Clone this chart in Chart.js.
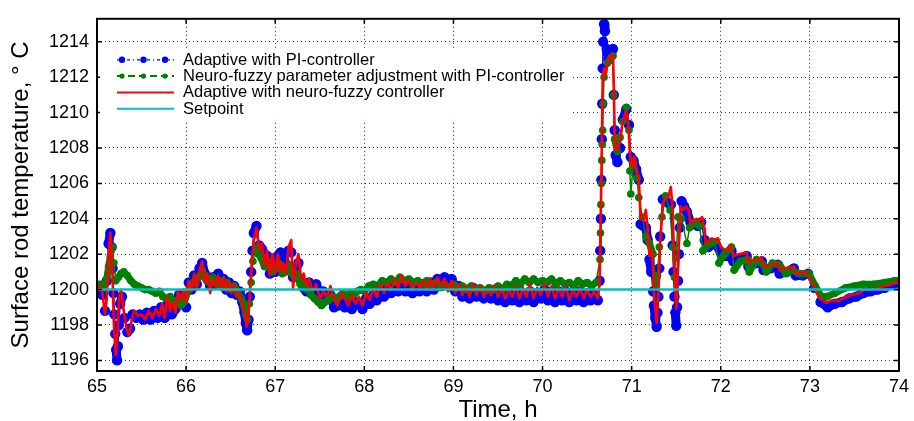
<!DOCTYPE html>
<html>
<head>
<meta charset="utf-8">
<script src="https://cdn.jsdelivr.net/npm/chart.js@4.4.1/dist/chart.umd.min.js"></script>
<style>
  html, body { margin: 0; padding: 0; background: #fff; }
  #wrap { width: 914px; height: 421px; }
</style>
</head>
<body>
<div id="wrap"><canvas id="tempChartCanvas" width="914" height="421"></canvas></div>
<script>
// [time h, temperature C]
const adaptivePI = [
  [65.00,1199.8],[65.03,1200.1],[65.06,1199.7],[65.09,1198.8],[65.11,1200.5],[65.13,1202.6],[65.15,1203.2],[65.165,1202.4],[65.175,1201.2],[65.185,1199.8],
  [65.195,1198.6],[65.205,1197.5],[65.215,1196.6],[65.225,1196.0],[65.235,1196.8],[65.245,1198.0],[65.26,1199.2],[65.28,1199.6],[65.31,1198.4],[65.34,1197.6],
  [65.37,1197.8],[65.40,1198.6],[65.44,1198.4],[65.48,1198.6],[65.52,1198.3],[65.56,1198.7],[65.60,1198.3],[65.64,1198.8],[65.68,1198.4],[65.72,1199.0],
  [65.76,1198.4],[65.80,1199.3],[65.84,1198.6],[65.88,1198.9],[65.92,1199.7],[65.96,1199.2],[66.00,1199.0],[66.03,1200.4],[66.06,1200.0],[66.09,1200.8],
  [66.12,1200.3],[66.15,1201.2],[66.18,1201.5],[66.21,1200.9],[66.24,1200.6],[66.27,1200.2],[66.30,1200.7],[66.33,1200.3],[66.36,1200.9],[66.39,1200.4],
  [66.42,1200.6],[66.45,1200.0],[66.48,1200.4],[66.51,1199.8],[66.54,1200.2],[66.57,1199.7],[66.60,1199.9],[66.63,1199.3],[66.655,1198.7],[66.67,1198.1],
  [66.685,1197.7],[66.70,1198.3],[66.715,1199.6],[66.73,1201.0],[66.745,1202.2],[66.76,1203.2],[66.79,1203.6],[66.82,1202.5],[66.85,1202.3],[66.88,1201.8],
  [66.91,1201.9],[66.94,1200.9],[66.97,1201.6],[67.00,1201.0],[67.03,1201.9],[67.06,1202.1],[67.09,1202.0],[67.12,1201.4],[67.15,1202.2],[67.18,1202.1],
  [67.20,1200.7],[67.23,1201.0],[67.26,1201.5],[67.29,1200.5],[67.32,1200.1],[67.35,1199.9],[67.38,1200.4],[67.42,1199.9],[67.46,1200.3],[67.50,1199.7],
  [67.54,1199.9],[67.58,1199.5],[67.62,1199.7],[67.66,1199.0],[67.70,1199.1],[67.74,1199.6],[67.78,1199.0],[67.82,1199.4],[67.86,1198.9],[67.90,1199.3],
  [67.94,1199.2],[67.98,1198.9],[68.02,1199.5],[68.06,1199.2],[68.10,1199.7],[68.14,1199.4],[68.18,1199.9],[68.22,1199.6],[68.26,1200.1],[68.30,1199.8],
  [68.34,1200.2],[68.38,1199.9],[68.42,1200.3],[68.46,1199.9],[68.50,1200.2],[68.54,1199.8],[68.58,1200.1],[68.62,1199.9],[68.66,1200.3],[68.70,1199.9],
  [68.74,1200.4],[68.78,1200.0],[68.82,1200.6],[68.86,1200.2],[68.90,1200.7],[68.94,1200.3],[68.98,1200.6],[69.02,1199.9],[69.06,1200.2],[69.10,1199.6],
  [69.14,1200.0],[69.18,1199.5],[69.22,1200.1],[69.26,1199.6],[69.30,1200.0],[69.34,1199.5],[69.38,1199.9],[69.42,1199.5],[69.46,1200.0],[69.50,1199.4],
  [69.54,1199.9],[69.58,1199.3],[69.62,1199.8],[69.66,1199.4],[69.70,1199.9],[69.74,1199.3],[69.78,1199.8],[69.82,1199.4],[69.86,1199.9],[69.90,1199.3],
  [69.94,1199.8],[69.98,1199.5],[70.02,1200.0],[70.06,1199.4],[70.10,1199.9],[70.14,1199.3],[70.18,1199.9],[70.22,1199.4],[70.26,1199.9],[70.30,1199.3],
  [70.34,1199.8],[70.38,1199.4],[70.42,1199.9],[70.46,1199.3],[70.50,1199.8],[70.54,1199.4],[70.58,1199.7],[70.62,1199.4],[70.64,1200.5],[70.647,1202.2],
  [70.655,1204.0],[70.66,1206.2],[70.665,1208.5],[70.67,1210.5],[70.675,1212.5],[70.68,1214.0],[70.69,1215.0],[70.70,1214.6],[70.72,1213.6],[70.74,1213.0],
  [70.77,1213.3],[70.79,1213.6],[70.80,1211.0],[70.81,1209.0],[70.82,1207.6],[70.84,1207.2],[70.87,1208.0],[70.90,1209.6],[70.94,1210.2],[70.97,1209.3],
  [70.99,1207.5],[71.02,1207.3],[71.05,1206.8],[71.08,1206.2],[71.10,1203.7],[71.13,1203.6],[71.16,1203.5],[71.18,1202.8],[71.20,1201.7],[71.22,1201.0],
  [71.24,1199.9],[71.25,1199.1],[71.265,1198.4],[71.28,1197.9],[71.29,1198.7],[71.30,1199.6],[71.31,1201.2],[71.32,1203.0],[71.35,1205.1],[71.38,1205.0],
  [71.41,1204.9],[71.44,1204.8],[71.46,1202.5],[71.47,1201.0],[71.48,1199.6],[71.49,1198.7],[71.50,1197.95],[71.51,1199.0],[71.52,1200.5],[71.53,1202.0],
  [71.54,1203.5],[71.56,1205.0],[71.59,1204.7],[71.62,1204.4],[71.66,1203.8],[71.70,1203.7],[71.74,1203.6],[71.78,1203.8],[71.82,1202.8],[71.86,1202.4],
  [71.90,1202.6],[71.95,1202.5],[72.00,1202.1],[72.06,1201.9],[72.12,1202.2],[72.14,1201.6],[72.20,1201.7],[72.29,1201.9],[72.31,1201.3],[72.40,1201.5],
  [72.46,1201.6],[72.48,1201.1],[72.56,1201.2],[72.64,1201.4],[72.66,1200.9],[72.74,1201.0],[72.82,1201.2],[72.84,1200.8],[72.92,1200.8],[72.98,1200.9],
  [73.05,1200.1],[73.12,1199.3],[73.20,1199.0],[73.28,1199.2],[73.36,1199.3],[73.44,1199.5],[73.52,1199.6],[73.60,1199.8],[73.68,1199.9],[73.76,1200.0],
  [73.84,1200.1],[73.92,1200.3],[74.00,1200.4]
];

const neuroFuzzyPI = [
  [65.00,1200.3],[65.04,1200.3],[65.08,1200.1],[65.11,1200.6],[65.13,1201.3],[65.15,1201.9],[65.17,1202.4],[65.19,1201.5],[65.21,1200.5],[65.24,1200.7],
  [65.27,1200.9],[65.30,1201.0],[65.34,1200.8],[65.38,1200.5],[65.42,1200.3],[65.46,1200.2],[65.50,1200.1],[65.54,1200.0],[65.58,1200.0],[65.62,1199.9],
  [65.66,1199.8],[65.70,1199.9],[65.74,1199.6],[65.78,1199.5],[65.82,1199.6],[65.86,1199.2],[65.90,1199.4],[65.94,1199.1],[65.98,1199.3],[66.02,1199.9],
  [66.06,1200.3],[66.10,1200.5],[66.14,1200.7],[66.18,1201.1],[66.22,1200.6],[66.26,1200.4],[66.30,1200.7],[66.34,1200.3],[66.38,1200.5],[66.42,1200.2],
  [66.46,1200.4],[66.50,1200.0],[66.54,1200.2],[66.58,1199.8],[66.62,1199.5],[66.65,1199.1],[66.67,1198.6],[66.69,1198.3],[66.71,1199.2],[66.73,1200.4],
  [66.75,1201.6],[66.78,1202.4],[66.81,1202.0],[66.84,1201.8],[66.88,1201.3],[66.92,1201.6],[66.96,1201.0],[67.00,1201.2],[67.04,1201.5],[67.08,1200.9],
  [67.12,1201.0],[67.16,1201.4],[67.20,1200.8],[67.24,1200.9],[67.28,1200.3],[67.32,1200.4],[67.36,1200.0],[67.40,1199.7],[67.44,1199.5],[67.48,1199.3],
  [67.52,1199.1],[67.56,1199.3],[67.60,1199.4],[67.64,1199.6],[67.68,1199.5],[67.72,1199.6],[67.76,1199.8],[67.80,1199.6],[67.84,1199.8],[67.88,1199.7],
  [67.92,1199.9],[67.96,1200.0],[68.00,1199.9],[68.05,1200.2],[68.10,1200.3],[68.15,1200.2],[68.20,1200.5],[68.25,1200.4],[68.30,1200.6],[68.35,1200.4],
  [68.40,1200.7],[68.45,1200.5],[68.50,1200.6],[68.55,1200.4],[68.60,1200.5],[68.65,1200.3],[68.70,1200.5],[68.75,1200.3],[68.80,1200.4],[68.85,1200.2],
  [68.90,1200.3],[68.95,1200.1],[69.00,1200.3],[69.05,1200.1],[69.10,1200.2],[69.15,1200.0],[69.20,1200.2],[69.25,1200.0],[69.30,1200.1],[69.35,1199.9],
  [69.40,1200.1],[69.45,1200.0],[69.50,1200.2],[69.55,1200.0],[69.60,1200.3],[69.65,1200.2],[69.70,1200.5],[69.75,1200.3],[69.80,1200.6],[69.85,1200.4],
  [69.90,1200.6],[69.95,1200.4],[70.00,1200.5],[70.05,1200.4],[70.10,1200.6],[70.15,1200.3],[70.20,1200.5],[70.25,1200.3],[70.30,1200.4],[70.35,1200.2],
  [70.40,1200.5],[70.45,1200.3],[70.50,1200.4],[70.55,1200.2],[70.60,1200.4],[70.645,1201.7],[70.65,1203.2],[70.655,1204.8],[70.66,1206.0],[70.665,1207.3],
  [70.67,1208.2],[70.675,1209.0],[70.68,1210.5],[70.69,1212.0],[70.73,1212.8],[70.77,1213.1],[70.79,1213.2],[70.80,1211.0],[70.81,1208.5],[70.84,1207.8],
  [70.87,1208.6],[70.90,1209.5],[70.94,1210.3],[70.97,1209.0],[70.98,1206.7],[70.99,1205.4],[71.02,1207.2],[71.06,1206.3],[71.08,1205.2],[71.12,1204.1],
  [71.16,1203.0],[71.20,1202.6],[71.24,1202.0],[71.27,1200.3],[71.29,1200.8],[71.31,1202.4],[71.34,1204.1],[71.38,1205.3],[71.43,1204.5],[71.46,1202.4],
  [71.48,1200.7],[71.50,1201.8],[71.52,1204.1],[71.56,1204.0],[71.62,1202.6],[71.65,1203.5],[71.70,1203.8],[71.76,1203.6],[71.80,1202.2],[71.85,1202.5],
  [71.93,1202.7],[71.98,1201.5],[72.04,1202.0],[72.12,1202.4],[72.15,1201.1],[72.22,1201.6],[72.30,1201.7],[72.32,1201.0],[72.40,1201.7],[72.48,1201.4],
  [72.51,1201.0],[72.58,1201.5],[72.66,1201.4],[72.73,1200.9],[72.80,1201.1],[72.88,1200.9],[72.99,1200.9],[73.06,1200.2],[73.13,1199.6],[73.19,1199.6],
  [73.28,1199.8],[73.40,1200.1],[73.50,1200.2],[73.60,1200.3],[73.72,1200.3],[73.84,1200.4],[73.95,1200.5],[74.00,1200.5]
];

const neuroFuzzyController = [
  [65.00,1199.9],[65.03,1200.2],[65.06,1199.8],[65.09,1198.6],[65.11,1199.5],[65.13,1202.0],[65.15,1203.2],[65.17,1201.5],[65.19,1198.0],[65.21,1196.3],
  [65.23,1197.5],[65.25,1199.6],[65.27,1200.0],[65.30,1198.8],[65.33,1197.8],[65.36,1197.4],[65.39,1198.3],[65.42,1198.8],[65.46,1198.5],[65.50,1198.6],
  [65.54,1198.3],[65.58,1198.8],[65.62,1198.4],[65.66,1198.9],[65.70,1198.5],[65.73,1199.2],[65.76,1198.4],[65.79,1199.6],[65.82,1198.8],[65.85,1199.3],
  [65.88,1198.7],[65.91,1199.9],[65.94,1199.4],[65.97,1200.0],[66.00,1199.3],[66.03,1200.5],[66.06,1199.9],[66.09,1200.9],[66.12,1200.0],[66.15,1201.0],
  [66.18,1201.6],[66.21,1200.4],[66.24,1200.9],[66.27,1199.8],[66.30,1200.6],[66.33,1200.2],[66.36,1200.8],[66.39,1200.0],[66.42,1200.7],[66.45,1199.9],
  [66.48,1200.5],[66.51,1199.8],[66.54,1200.3],[66.57,1199.6],[66.60,1199.8],[66.63,1199.2],[66.66,1198.6],[66.68,1197.9],[66.70,1198.5],[66.72,1200.2],
  [66.74,1201.8],[66.76,1202.8],[66.79,1203.5],[66.82,1202.2],[66.85,1202.6],[66.88,1201.3],[66.91,1202.2],[66.94,1200.8],[66.97,1202.0],[67.00,1200.9],
  [67.03,1202.0],[67.06,1201.0],[67.09,1201.5],[67.12,1200.9],[67.15,1202.4],[67.18,1202.8],[67.20,1200.1],[67.23,1201.4],[67.26,1202.0],[67.29,1200.6],
  [67.32,1200.9],[67.35,1200.2],[67.38,1200.6],[67.42,1199.9],[67.46,1200.3],[67.50,1199.5],[67.54,1199.9],[67.58,1199.6],[67.62,1200.2],[67.66,1199.4],
  [67.70,1199.1],[67.74,1199.8],[67.78,1199.5],[67.82,1199.1],[67.86,1199.7],[67.90,1199.2],[67.94,1199.6],[67.98,1199.1],[68.02,1199.8],[68.06,1199.4],
  [68.10,1200.1],[68.14,1199.6],[68.18,1200.3],[68.22,1199.8],[68.26,1200.4],[68.30,1200.0],[68.34,1200.6],[68.38,1200.1],[68.42,1200.8],[68.46,1200.2],
  [68.50,1200.5],[68.54,1200.0],[68.58,1200.4],[68.62,1200.1],[68.66,1200.5],[68.70,1200.0],[68.74,1200.6],[68.78,1200.1],[68.82,1200.7],[68.86,1200.2],
  [68.90,1200.6],[68.94,1199.9],[68.98,1200.5],[69.02,1199.8],[69.06,1200.3],[69.10,1199.7],[69.14,1200.2],[69.18,1199.6],[69.22,1200.3],[69.26,1199.7],
  [69.30,1200.2],[69.34,1199.6],[69.38,1200.1],[69.42,1199.7],[69.46,1200.2],[69.50,1199.6],[69.54,1200.1],[69.58,1199.5],[69.62,1200.0],[69.66,1199.6],
  [69.70,1200.2],[69.74,1199.5],[69.78,1200.1],[69.82,1199.6],[69.86,1200.3],[69.90,1199.5],[69.94,1200.1],[69.98,1199.7],[70.02,1200.3],[70.06,1199.6],
  [70.10,1200.2],[70.14,1199.5],[70.18,1200.1],[70.22,1199.6],[70.26,1200.2],[70.30,1199.4],[70.34,1200.0],[70.38,1199.6],[70.42,1200.1],[70.46,1199.5],
  [70.50,1200.0],[70.54,1199.6],[70.58,1199.9],[70.62,1199.5],[70.64,1200.3],[70.66,1206.3],[70.675,1211.9],[70.69,1212.5],[70.71,1212.1],[70.73,1212.9],
  [70.76,1213.2],[70.79,1213.3],[70.80,1211.5],[70.81,1208.2],[70.83,1207.8],[70.86,1208.2],[70.90,1209.5],[70.94,1210.1],[70.96,1209.5],[70.98,1207.8],
  [71.00,1206.9],[71.03,1207.5],[71.05,1206.9],[71.08,1206.3],[71.10,1204.1],[71.13,1203.9],[71.16,1204.5],[71.18,1203.4],[71.20,1201.9],[71.23,1202.2],
  [71.25,1199.8],[71.28,1198.1],[71.30,1199.8],[71.32,1202.6],[71.35,1204.9],[71.38,1205.2],[71.41,1205.2],[71.44,1205.8],[71.46,1204.5],[71.48,1201.1],
  [71.50,1198.9],[71.51,1199.8],[71.53,1202.6],[71.55,1204.7],[71.58,1204.5],[71.61,1204.7],[71.64,1204.5],[71.66,1203.7],[71.70,1203.9],[71.73,1204.0],
  [71.76,1203.9],[71.79,1204.1],[71.82,1203.4],[71.83,1202.6],[71.87,1202.8],[71.90,1202.9],[71.93,1202.8],[71.97,1202.9],[72.00,1202.4],[72.06,1202.2],
  [72.12,1202.5],[72.14,1201.9],[72.20,1202.0],[72.29,1202.1],[72.31,1201.5],[72.39,1201.7],[72.46,1201.8],[72.48,1201.3],[72.56,1201.4],[72.64,1201.5],
  [72.66,1201.1],[72.74,1201.2],[72.82,1201.3],[72.84,1200.9],[72.95,1201.0],[73.03,1200.4],[73.10,1199.6],[73.18,1199.25],[73.25,1199.4],[73.32,1199.35],
  [73.40,1199.6],[73.47,1199.7],[73.55,1199.8],[73.62,1200.0],[73.70,1200.0],[73.77,1200.1],[73.85,1200.2],[73.92,1200.3],[74.00,1200.5]
];

const setpoint = [[65, 1200], [74, 1200]];

const seriesLabels = [
  'Adaptive with PI-controller',
  'Neuro-fuzzy parameter adjustment with PI-controller',
  'Adaptive with neuro-fuzzy controller',
  'Setpoint'
];
const xTicks = [65, 66, 67, 68, 69, 70, 71, 72, 73, 74];
const yTicks = [1196, 1198, 1200, 1202, 1204, 1206, 1208, 1210, 1212, 1214];

const FONT = '"Liberation Sans", Arial, sans-serif';

const toPoints = arr => arr.map(p => ({ x: p[0], y: p[1] }));

// dense marker bands: thick where the curve is flat, thin on steep jumps so the dots show
const bandWidth = (thick, thin) => c => Math.abs(c.p1.y - c.p0.y) > 14 ? thin : thick;

// frame with inward ticks on all four sides
const frameTicks = {
    id: 'frameTicks',
    afterDatasetsDraw(chart) {
        const { ctx, chartArea: a, scales } = chart;
        ctx.save();
        ctx.strokeStyle = '#000';
        ctx.lineWidth = 1.5;
        ctx.beginPath();
        xTicks.forEach(v => {
            const x = scales.x.getPixelForValue(v);
            ctx.moveTo(x, a.bottom); ctx.lineTo(x, a.bottom - 5);
            ctx.moveTo(x, a.top); ctx.lineTo(x, a.top + 5);
        });
        yTicks.forEach(v => {
            const y = scales.y.getPixelForValue(v);
            ctx.moveTo(a.left, y); ctx.lineTo(a.left + 5, y);
            ctx.moveTo(a.right, y); ctx.lineTo(a.right - 5, y);
        });
        ctx.stroke();
        ctx.lineWidth = 2;
        ctx.strokeRect(a.left, a.top, a.right - a.left, a.bottom - a.top);
        ctx.restore();
    }
};

// legend sits inside the axes, top left, white box without border
const innerLegend = {
    id: 'innerLegend',
    afterDraw(chart) {
        const { ctx, chartArea: a } = chart;
        const x0 = a.left + 3, y0 = a.top + 30;
        const rowH = 16.3;
        ctx.save();
        ctx.fillStyle = '#fff';
        ctx.fillRect(x0, y0, 472, 71);
        chart.data.datasets.forEach((ds, i) => {
            const y = y0 + 11 + i * rowH;
            const sx = x0 + 17, ex = x0 + 74;
            ctx.strokeStyle = ds.borderColor;
            ctx.lineWidth = i === 0 ? 1.2 : 2;
            ctx.setLineDash(i === 0 ? [3, 3, 1, 3] : i === 1 ? [7, 4] : []);
            ctx.beginPath(); ctx.moveTo(sx, y); ctx.lineTo(ex, y); ctx.stroke();
            ctx.setLineDash([]);
            if (i < 2) {
                ctx.fillStyle = ds.pointBackgroundColor;
                [sx + 5, sx + 26.5, sx + 48].forEach(px => {
                    ctx.beginPath(); ctx.arc(px, y, i === 0 ? 3.2 : 2.6, 0, Math.PI * 2); ctx.fill();
                });
            }
            ctx.fillStyle = '#000';
            ctx.font = '16.5px ' + FONT;
            ctx.textBaseline = 'middle';
            ctx.fillText(ds.label, x0 + 83, y + 0.5);
        });
        ctx.restore();
    }
};

document.addEventListener("DOMContentLoaded", () => {
    const ctx = document.getElementById('tempChartCanvas').getContext('2d');
    const tempChart = new Chart(ctx, {
        type: 'line',
        data: {
            datasets: [{
                label: seriesLabels[0],
                data: toPoints(adaptivePI),
                borderColor: '#0000ff',
                backgroundColor: '#0000ff',
                pointBackgroundColor: '#0000ff',
                pointBorderWidth: 0,
                pointRadius: 5.2,
                borderWidth: 9,
                borderJoinStyle: 'round',
                borderCapStyle: 'round',
                segment: { borderWidth: bandWidth(9, 1.5) },
                order: 4
            }, {
                label: seriesLabels[1],
                data: toPoints(neuroFuzzyPI),
                borderColor: '#008000',
                backgroundColor: '#008000',
                pointBackgroundColor: '#008000',
                pointBorderWidth: 0,
                pointRadius: 3.8,
                borderWidth: 7,
                borderJoinStyle: 'round',
                borderCapStyle: 'round',
                segment: { borderWidth: bandWidth(7, 1.5) },
                order: 3
            }, {
                label: seriesLabels[2],
                data: toPoints(neuroFuzzyController),
                borderColor: '#ff0000',
                backgroundColor: '#ff0000',
                pointRadius: 0,
                borderWidth: 2.6,
                borderJoinStyle: 'round',
                order: 2
            }, {
                label: seriesLabels[3],
                data: toPoints(setpoint),
                borderColor: '#00bfbf',
                backgroundColor: '#00bfbf',
                pointRadius: 0,
                borderWidth: 2.5,
                order: 1
            }]
        },
        options: {
            responsive: false,
            animation: false,
            events: [],
            layout: { padding: { top: 16, right: 10, left: 0, bottom: 0 } },
            plugins: { legend: { display: false }, tooltip: { enabled: false } },
            scales: {
                x: {
                    type: 'linear',
                    min: 65,
                    max: 74,
                    afterBuildTicks: s => { s.ticks = xTicks.map(v => ({ value: v })); },
                    afterFit: s => { s.height = 50; },
                    grid: { color: '#333', lineWidth: 1, drawTicks: false },
                    border: { display: false, dash: [1, 3] },
                    ticks: { color: '#000', padding: 5, maxRotation: 0, font: { family: FONT, size: 18 },
                             callback: v => String(v) },
                    title: {
                        display: true, text: 'Time, h', color: '#000',
                        font: { family: FONT, size: 24, lineHeight: 1 }, padding: { top: 0, bottom: -1 }
                    }
                },
                y: {
                    min: 1195.4,
                    max: 1215.3,
                    afterBuildTicks: s => { s.ticks = yTicks.map(v => ({ value: v })); },
                    afterFit: s => { s.width = 97; },
                    grid: { color: '#333', lineWidth: 1, drawTicks: false },
                    border: { display: false, dash: [1, 3] },
                    ticks: { color: '#000', padding: 8, font: { family: FONT, size: 18 },
                             callback: v => String(v) },
                    title: {
                        display: true, text: 'Surface rod temperature, \u00b0 C', color: '#000',
                        font: { family: FONT, size: 24, lineHeight: 1.2 }, padding: { top: 7, bottom: 0 }
                    }
                }
            }
        },
        plugins: [frameTicks, innerLegend]
    });
});
</script>
</body>
</html>
